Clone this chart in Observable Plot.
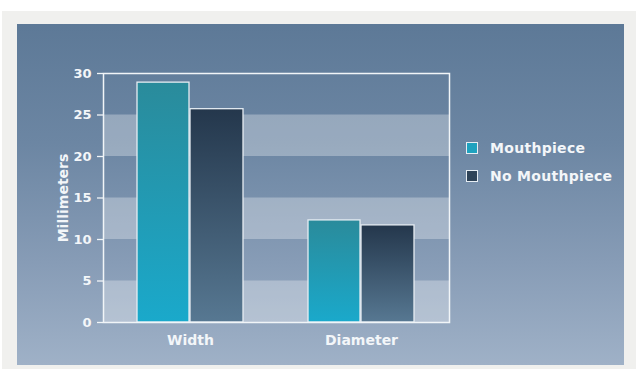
<!DOCTYPE html>
<html>
<head>
<meta charset="utf-8">
<script src="https://cdn.jsdelivr.net/npm/d3@7"></script>
<script src="https://cdn.jsdelivr.net/npm/@observablehq/plot@0.6"></script>
<style>
  html, body { margin: 0; padding: 0; background: #ffffff; }
  #wrap { position: relative; width: 641px; height: 374px; overflow: hidden; font-family: "DejaVu Sans", sans-serif; }
  #card { position: absolute; left: 2px; top: 11px; width: 634px; height: 358px; background: #f0f0ee; }
  #panel { position: absolute; left: 17px; top: 24px; width: 607px; height: 341px;
           background: linear-gradient(#5d7997 0%, #6c86a3 35%, #879cb6 70%, #9fb1c7 100%); }
  #chart { position: absolute; left: 0; top: 0; }
  #legend { position: absolute; left: 466px; top: 134px; color: #f3f6f9; font-weight: bold; font-size: 14px; letter-spacing: 0.3px; }
  .item { display: flex; align-items: center; height: 28px; }
  .sw { width: 10px; height: 10px; border: 1.5px solid #e6edf3; margin-right: 12px; }
</style>
</head>
<body>
<div id="wrap">
  <div id="card"></div>
  <div id="panel"></div>
  <div id="chart"></div>
  <div id="legend"></div>
</div>
<script>
// ---- data ----
const categories = ["Width", "Diameter"];
const series = ["Mouthpiece", "No Mouthpiece"];
const mouthpiece = [28.9, 12.3];
const noMouthpiece = [25.7, 11.7];
const yTicks = [0, 5, 10, 15, 20, 25, 30];
const yLabel = "Millimeters";
const swatchColors = ["#1fa2bf", "#2e4358"];

// ---- derived tables ----
const rows = categories.flatMap((c, i) => [
  {category: c, series: series[0], value: mouthpiece[i]},
  {category: c, series: series[1], value: noMouthpiece[i]}
]);
const bands = yTicks.slice(0, -1).map((t, i) => ({y1: t, y2: yTicks[i + 1], light: i % 2 === 0}));

const defs = () => {
  const d = d3.create("svg:defs");
  const g1 = d.append("linearGradient").attr("id", "gradA").attr("x1", 0).attr("y1", 0).attr("x2", 0).attr("y2", 1);
  g1.append("stop").attr("offset", "0%").attr("stop-color", "#2a8b9b");
  g1.append("stop").attr("offset", "100%").attr("stop-color", "#1aa9cb");
  const g2 = d.append("linearGradient").attr("id", "gradB").attr("x1", 0).attr("y1", 0).attr("x2", 0).attr("y2", 1);
  g2.append("stop").attr("offset", "0%").attr("stop-color", "#24374c");
  g2.append("stop").attr("offset", "100%").attr("stop-color", "#577892");
  return d.node();
};

const textColor = "#f3f6f9";
const chart = Plot.plot({
  width: 641,
  height: 374,
  marginLeft: 103,
  marginRight: 192,
  marginTop: 73,
  marginBottom: 52,
  style: {background: "transparent", color: textColor, fontFamily: "DejaVu Sans, sans-serif", fontSize: "13px", overflow: "visible"},
  x: {domain: categories, paddingInner: 0.38, paddingOuter: 0.2, label: null},
  y: {domain: [0, 30], label: null},
  marks: [
    defs,
    Plot.rectY(bands.filter(d => d.light), {y1: "y1", y2: "y2", fill: "white", fillOpacity: 0.3}),
    Plot.barY(rows.filter(d => d.series === series[0]), {
      x: "category", y: "value", fill: "url(#gradA)", stroke: "#e6edf3", strokeWidth: 1.3, insetRight: 54
    }),
    Plot.barY(rows.filter(d => d.series === series[1]), {
      x: "category", y: "value", fill: "url(#gradB)", stroke: "#e6edf3", strokeWidth: 1.3, insetLeft: 53
    }),
    Plot.frame({stroke: "#f1f5f8", strokeWidth: 1.5}),
    Plot.axisY({ticks: yTicks, tickSize: 6, tickPadding: 6, stroke: "#f1f5f8", strokeWidth: 1.3, fill: textColor, fontSize: 13, fontWeight: "bold", label: null}),
    Plot.axisX({tickSize: 0, tickPadding: 13, fill: textColor, fontSize: 14, fontWeight: "bold", label: null}),
    Plot.text([yLabel], {frameAnchor: "left", textAnchor: "middle", rotate: -90, dx: -40, fill: textColor, fontSize: 14, fontWeight: "bold", letterSpacing: 1})
  ]
});
document.getElementById("chart").append(chart);

// legend
const legend = document.getElementById("legend");
series.forEach((s, i) => {
  const item = document.createElement("div");
  item.className = "item";
  const sw = document.createElement("div");
  sw.className = "sw";
  sw.style.background = swatchColors[i];
  const label = document.createElement("span");
  label.textContent = s;
  item.append(sw, label);
  legend.append(item);
});
</script>
</body>
</html>
